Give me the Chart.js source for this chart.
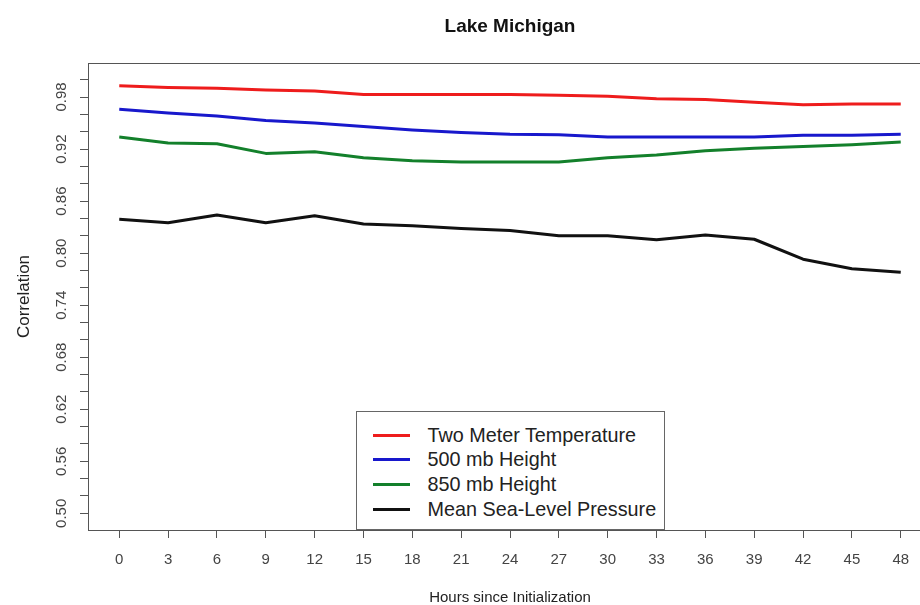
<!DOCTYPE html>
<html>
<head>
<meta charset="utf-8">
<title>Lake Michigan</title>
<script src="https://cdn.jsdelivr.net/npm/chart.js@4"></script>
<style>
html, body { margin: 0; padding: 0; background: #fff; overflow: hidden; }
#wrap { position: relative; width: 940px; height: 615px; }
#legend {
    position: absolute; box-sizing: border-box; width: 309px; height: 119px;
    border: 1px solid #666; background: #fff; padding-top: 11px;
    font-family: 'Liberation Sans', Arial, sans-serif; font-size: 19.8px; color: #222;
}
#legend .row { display: flex; align-items: center; height: 24.6px; }
#legend .swatch { width: 37px; height: 3px; margin-left: 16px; margin-right: 18px; }
</style>
</head>
<body>
<div id="wrap">
    <canvas id="chart" width="940" height="615"></canvas>
    <div id="legend"></div>
</div>
<script>
// forecast hour (x axis)
var hours = [0, 3, 6, 9, 12, 15, 18, 21, 24, 27, 30, 33, 36, 39, 42, 45, 48];

// correlation per variable
var t2m  = [0.993, 0.991, 0.990, 0.988, 0.987, 0.983, 0.983, 0.983, 0.983, 0.982, 0.981, 0.978, 0.977, 0.974, 0.971, 0.972, 0.972];
var h500 = [0.966, 0.9615, 0.958, 0.953, 0.950, 0.946, 0.942, 0.939, 0.937, 0.9365, 0.934, 0.934, 0.934, 0.934, 0.936, 0.936, 0.937];
var h850 = [0.934, 0.927, 0.926, 0.915, 0.917, 0.910, 0.9065, 0.905, 0.905, 0.905, 0.910, 0.913, 0.918, 0.921, 0.923, 0.925, 0.928];
var mslp = [0.839, 0.835, 0.844, 0.835, 0.843, 0.8335, 0.8315, 0.8285, 0.826, 0.820, 0.820, 0.8155, 0.821, 0.816, 0.793, 0.782, 0.778];

var seriesNames  = ['Two Meter Temperature', '500 mb Height', '850 mb Height', 'Mean Sea-Level Pressure'];
var seriesColors = ['#ee1c1c', '#1818cc', '#13802b', '#111111'];

// y ticks every 0.02, labelled every 0.06
var yTicks  = [0.50, 0.52, 0.54, 0.56, 0.58, 0.60, 0.62, 0.64, 0.66, 0.68, 0.70, 0.72, 0.74,
               0.76, 0.78, 0.80, 0.82, 0.84, 0.86, 0.88, 0.90, 0.92, 0.94, 0.96, 0.98, 1.00];
var yLabels = [0.50, 0.56, 0.62, 0.68, 0.74, 0.80, 0.86, 0.92, 0.98];

Chart.defaults.font.family = "'Liberation Sans', Arial, sans-serif";

function toPoints(vals) {
    var pts = [];
    for (var i = 0; i < hours.length; i++) {
        pts.push({ x: hours[i], y: vals[i] });
    }
    return pts;
}

var allSeries = [t2m, h500, h850, mslp];
var datasets = [];
for (var i = 0; i < allSeries.length; i++) {
    datasets.push({
        label: seriesNames[i],
        data: toPoints(allSeries[i]),
        borderColor: seriesColors[i],
        backgroundColor: seriesColors[i],
        borderWidth: 3,
        borderJoinStyle: 'round',
        pointRadius: 0,
        tension: 0
    });
}

// R-style box round the plot region
var boxPlugin = {
    id: 'box',
    afterDraw: function(chart) {
        var a = chart.chartArea;
        var ctx = chart.ctx;
        ctx.save();
        ctx.strokeStyle = '#555';
        ctx.lineWidth = 1;
        ctx.strokeRect(Math.round(a.left) + 0.5, Math.round(a.top) + 0.5,
                       Math.round(a.right - a.left), Math.round(a.bottom - a.top));
        ctx.restore();
    }
};

var axisGrid = { drawOnChartArea: false, drawTicks: true, tickLength: 8, tickColor: '#555' };

var chart = new Chart(document.getElementById('chart').getContext('2d'), {
    type: 'line',
    data: { datasets: datasets },
    plugins: [boxPlugin],
    options: {
        responsive: false,
        animation: false,
        devicePixelRatio: 1,
        layout: { padding: { left: 0, right: 8, top: 0, bottom: 0 } },
        plugins: {
            legend: { display: false },
            tooltip: { enabled: false },
            title: {
                display: true,
                text: 'Lake Michigan',
                fullSize: false,
                color: '#111',
                font: { size: 19, weight: 'bold' },
                padding: { top: 15.6, bottom: 24.6 }
            }
        },
        scales: {
            x: {
                type: 'linear',
                min: -1.92,
                max: 49.92,
                afterBuildTicks: function(s) {
                    s.ticks = hours.map(function(v) { return { value: v }; });
                },
                afterFit: function(s) { s.height = 85; },
                grid: axisGrid,
                border: { display: true, color: '#555' },
                ticks: {
                    autoSkip: false, maxRotation: 0, padding: 13,
                    font: { size: 15 }, color: '#444',
                    callback: function(v) { return String(v); }
                },
                title: {
                    display: true, text: 'Hours since Initialization',
                    font: { size: 15 }, color: '#222',
                    padding: { top: 0, bottom: 8 }
                }
            },
            y: {
                type: 'linear',
                min: 0.4808,
                max: 1.0192,
                afterBuildTicks: function(s) {
                    s.ticks = yTicks.map(function(v) { return { value: v }; });
                },
                afterFit: function(s) { s.width = 88; },
                grid: axisGrid,
                border: { display: true, color: '#555' },
                ticks: {
                    autoSkip: false, minRotation: 90, maxRotation: 90,
                    crossAlign: 'center', padding: 4,
                    font: { size: 15 }, color: '#444',
                    callback: function(v) {
                        for (var k = 0; k < yLabels.length; k++) {
                            if (Math.abs(yLabels[k] - v) < 1e-6) return yLabels[k].toFixed(2);
                        }
                        return '';
                    }
                },
                title: {
                    display: true, text: 'Correlation',
                    font: { size: 17 }, color: '#222',
                    padding: { top: 14, bottom: 0 }
                }
            }
        }
    }
});

// legend box, placed at the bottom centre of the plot region
var legendEl = document.getElementById('legend');
for (var j = 0; j < seriesNames.length; j++) {
    var row = document.createElement('div');
    row.className = 'row';
    var sw = document.createElement('span');
    sw.className = 'swatch';
    sw.style.background = seriesColors[j];
    var txt = document.createElement('span');
    txt.textContent = seriesNames[j];
    row.appendChild(sw);
    row.appendChild(txt);
    legendEl.appendChild(row);
}
var area = chart.chartArea;
legendEl.style.left = ((area.left + area.right) / 2 - 154.5) + 'px';
legendEl.style.top = (area.bottom - 119) + 'px';
</script>
</body>
</html>
